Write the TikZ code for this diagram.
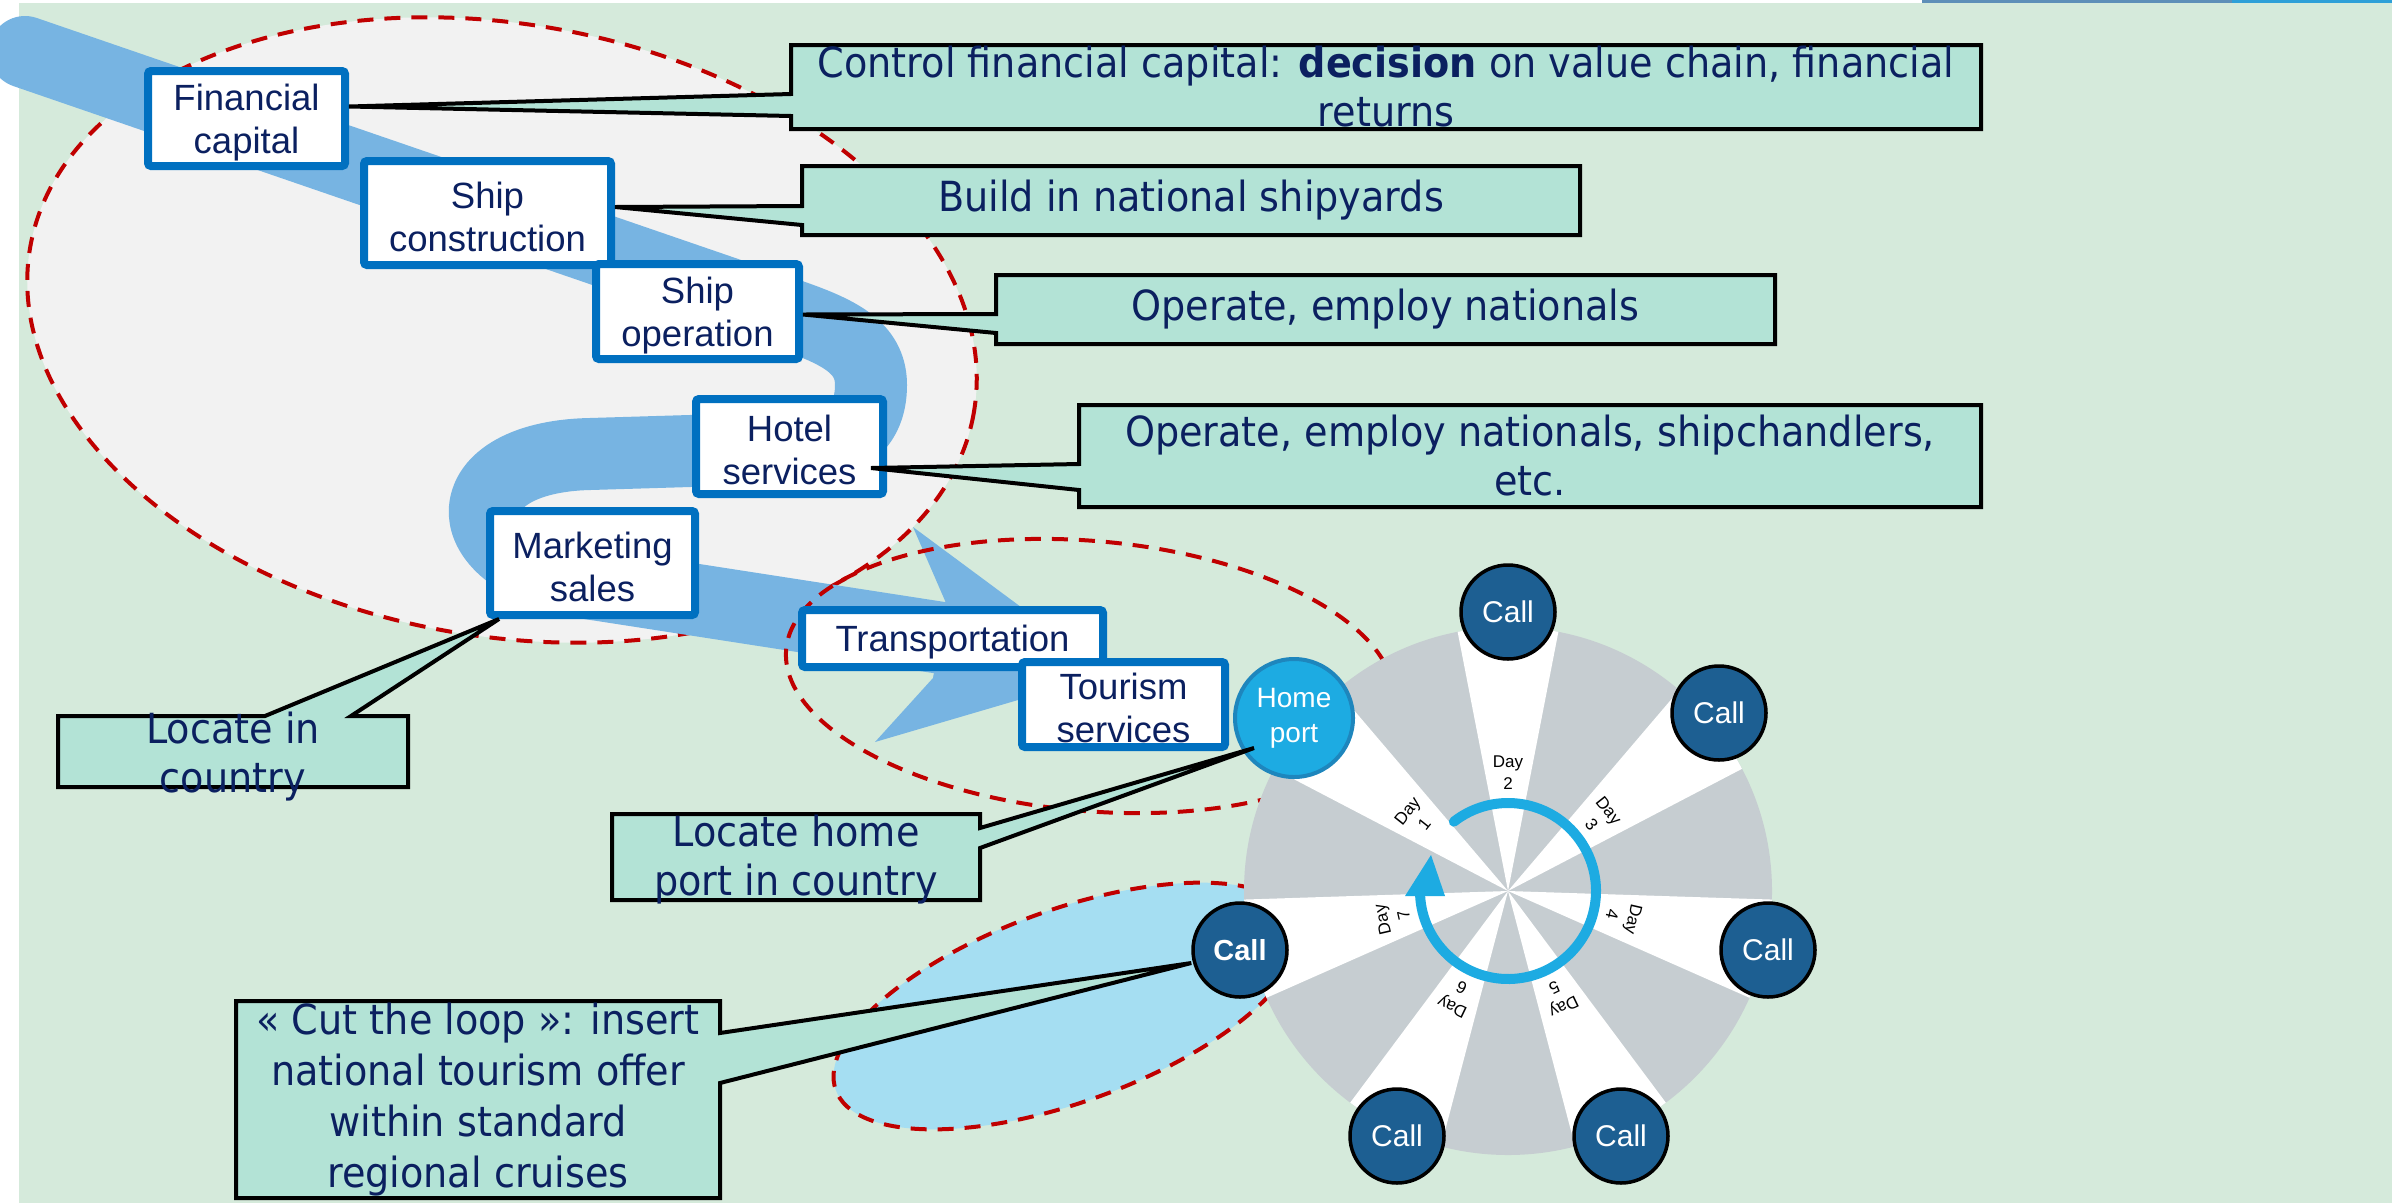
\documentclass[tikz,border=0pt]{standalone}
\usepackage{fontspec}
\setmainfont{Liberation Sans}
\newfontfamily\callfont[FakeStretch=0.92]{DejaVu Sans}
\usetikzlibrary{arrows.meta,calc}
\newcommand{\boxstrut}{\rule{0pt}{34pt}}
\definecolor{bggreen}{HTML}{D5EADB}
\definecolor{callteal}{HTML}{B3E3D6}
\definecolor{ellgray}{HTML}{F2F2F2}
\definecolor{bandblue}{HTML}{77B4E2}
\definecolor{boxblue}{HTML}{0070C0}
\definecolor{txtnavy}{HTML}{0B2060}
\definecolor{dashred}{HTML}{C00000}
\definecolor{wheelgray}{HTML}{C6CDD1}
\definecolor{calldark}{HTML}{1D5F92}
\definecolor{homeblue}{HTML}{1DABE2}
\definecolor{homeedge}{HTML}{1E86BD}
\definecolor{ringblue}{HTML}{1DABE2}
\definecolor{lightell}{HTML}{A5DEF2}
\definecolor{barA}{HTML}{5E8FB8}
\definecolor{barB}{HTML}{2EA0D8}
\begin{document}
\begin{tikzpicture}[x=1pt,y=-1pt,
  vbox/.style={draw=boxblue, line width=8pt, fill=white, rounded corners=3pt, inner sep=0pt,
    align=center, text=txtnavy, font=\fontsize{36.5}{43}\selectfont},
  cph/.style={inner sep=0pt, outer sep=0pt},
  cshape/.style={fill=callteal, draw=black, line width=4pt},
  ctext/.style={inner sep=0pt, align=center, text=txtnavy, font=\callfont\fontsize{41.5}{49}\selectfont},
  reddash/.style={draw=dashred, line width=4pt, dash pattern=on 16pt off 11pt},
  band/.style={draw=bandblue, line width=72pt, line cap=round, line join=round},
  daylbl/.style={inner sep=0pt, align=center, font=\fontsize{17}{22}\selectfont},
  call/.style={circle, draw=black, line width=3.5pt, fill=calldark, minimum size=94pt, inner sep=0pt,
    text=white, font=\fontsize{30}{34}\selectfont},
  homenode/.style={circle, draw=homeedge, line width=4pt, fill=homeblue, minimum size=118pt, inner sep=0pt,
    text=white, align=center, font=\fontsize{28}{35}\selectfont},
  ring/.style={draw=ringblue, line width=10pt, line cap=round}
]
\useasboundingbox (0,0) rectangle (2392,1203);
% backgrounds
\fill[white] (0,0) rectangle (2392,1203);
\fill[barA] (1922,0) rectangle (2232,3);
\fill[barB] (2232,0) rectangle (2392,3);
\fill[bggreen] (19,3) rectangle (2392,1203);

% big grey dashed ellipse
\draw[reddash, fill=ellgray, shift={(502,330)}, rotate=-10] (0,0) ellipse [x radius=479, y radius=306];

% value-chain band
\draw[band] (25,52) -- (780,311.4) .. controls (835,330) and (871,345) .. (871,385)
  .. controls (871,430) and (840,448) .. (790,448) -- (590,454)
  .. controls (448,457) and (448,565) .. (600,585) -- (942,638);
\fill[bandblue] (946,603) -- (913,527) -- (1110,673) -- (875,742) -- (933,678) -- cycle;

% transport ellipse
\draw[reddash, shift={(1090,676)}, rotate=-5] (0,0) ellipse [x radius=305, y radius=135];
% light blue ellipse
\draw[reddash, fill=lightell, shift={(1067,1006)}, rotate=20] (0,0) ellipse [x radius=246, y radius=96];

% wheel
\coordinate (W) at (1508,891);
\fill[wheelgray] (W) circle (264);
\foreach \d in {1,...,7} {
  \pgfmathsetmacro{\ang}{141.4286-(\d-1)*51.4286}
  \pgfmathsetmacro{\aA}{-\ang-11}
  \pgfmathsetmacro{\aB}{-\ang+11}
  \fill[white] (W) -- ($(W)+(\aA:264)$) arc[start angle=\aA, end angle=\aB, radius=264] -- cycle;
}
\foreach \d in {1,...,7} {
  \pgfmathsetmacro{\ang}{141.4286-(\d-1)*51.4286}
  \pgfmathsetmacro{\na}{-\ang}
  \pgfmathsetmacro{\rot}{\ang-90}
  \node[daylbl, rotate=\rot] (day\d) at ($(W)+(\na:118)$) {Day\\\d};
}
\draw[ring] ($(W)+(-128:88)$) arc[start angle=-128, end angle=177, radius=88];
\fill[ringblue] ($(W)+(-77,-36)$) -- ($(W)+(-103,5)$) -- ($(W)+(-63,5)$) -- cycle;

% ports of call
\node[homenode] (home) at (1294,718) {Home\\port};
\node[call] (c2) at (1508,612) {Call};
\node[call] (c3) at (1719,713) {Call};
\node[call] (c4) at (1768,950) {Call};
\node[call] (c5) at (1621,1136) {Call};
\node[call] (c6) at (1397,1136) {Call};
\node[call, font=\bfseries\fontsize{29}{34}\selectfont] (c7) at (1240,950) {Call};

% value chain boxes
\node[vbox, minimum width=197pt, minimum height=95pt] (fin) at (246.5,118.5) {\boxstrut Financial\\capital};
\node[vbox, minimum width=247pt, minimum height=104pt] (con) at (487.5,213) {\boxstrut Ship\\construction};
\node[vbox, minimum width=203pt, minimum height=95pt] (ope) at (697.5,311.5) {\boxstrut Ship\\operation};
\node[vbox, minimum width=187pt, minimum height=95pt] (hot) at (789.5,446.5) {\boxstrut Hotel\\services};
\node[vbox, minimum width=205pt, minimum height=104pt] (mkt) at (592.5,563) {\boxstrut Marketing\\sales};
\node[vbox, minimum width=301pt, minimum height=57pt] (tra) at (952.5,638.5) {\boxstrut Transportation};
\node[vbox, minimum width=203pt, minimum height=85pt] (tou) at (1123.5,704.5) {\boxstrut Tourism\\services};

% callouts
\node[cph, minimum width=1190pt, minimum height=84pt] (cFin) at (1386,87) {};
\path[cshape] (cFin.north west) -- (cFin.north east) -- (cFin.south east) -- (cFin.south west)
  -- ($(cFin.north west)+(0,71)$) -- ([yshift=12pt]fin.east) -- ($(cFin.north west)+(0,49)$) -- cycle;
\node[ctext] (cFinT) at (cFin.center) {Control financial capital: \textbf{decision} on value chain, financial\\returns};

\node[cph, minimum width=778pt, minimum height=69pt] (cCon) at (1191,200.5) {};
\path[cshape] (cCon.north west) -- (cCon.north east) -- (cCon.south east) -- (cCon.south west)
  -- ($(cCon.north west)+(0,59)$) -- ([yshift=6pt]con.east) -- ($(cCon.north west)+(0,40)$) -- cycle;
\node[ctext] (cConT) at (cCon.center) {Build in national shipyards};

\node[cph, minimum width=779pt, minimum height=69pt] (cOpe) at (1385.5,309.5) {};
\path[cshape] (cOpe.north west) -- (cOpe.north east) -- (cOpe.south east) -- (cOpe.south west)
  -- ($(cOpe.north west)+(0,58)$) -- ([yshift=-3pt]ope.east) -- ($(cOpe.north west)+(0,39)$) -- cycle;
\node[ctext] (cOpeT) at (cOpe.center) {Operate, employ nationals};

\node[cph, minimum width=902pt, minimum height=102pt] (cHot) at (1530,456) {};
\path[cshape] (cHot.north west) -- (cHot.north east) -- (cHot.south east) -- (cHot.south west)
  -- ($(cHot.north west)+(0,85)$) -- ([xshift=-16pt,yshift=-21.5pt]hot.east) -- ($(cHot.north west)+(0,59)$) -- cycle;
\node[ctext] (cHotT) at (cHot.center) {Operate, employ nationals, shipchandlers,\\etc.};

\node[cph, minimum width=350pt, minimum height=71pt] (cLoc) at (233,751.5) {};
\path[cshape] (cLoc.north west) -- ($(cLoc.north west)+(207,0)$) -- ([xshift=13pt]mkt.south west)
  -- ($(cLoc.north west)+(293,0)$) -- (cLoc.north east) -- (cLoc.south east) -- (cLoc.south west) -- cycle;
\node[ctext] (cLocT) at ([yshift=-5pt]cLoc.center) {Locate in\\country};

\node[cph, minimum width=368pt, minimum height=86pt] (cHome) at (796,857) {};
\path[cshape] (cHome.north west) -- (cHome.north east) -- ($(cHome.north east)+(0,14)$)
  -- ([xshift=-40pt,yshift=-30pt]home.center) -- ($(cHome.north east)+(0,34)$)
  -- (cHome.south east) -- (cHome.south west) -- cycle;
\node[ctext] (cHomeT) at ([yshift=-3pt]cHome.center) {Locate home\\port in country};

\node[cph, minimum width=484pt, minimum height=197pt] (cCut) at (478,1099.5) {};
\path[cshape] (cCut.north west) -- (cCut.north east) -- ($(cCut.north east)+(0,32)$)
  -- ([yshift=-13pt]c7.west) -- ($(cCut.north east)+(0,82)$)
  -- (cCut.south east) -- (cCut.south west) -- cycle;
\node[ctext, font=\callfont\fontsize{41.5}{51}\selectfont] (cCutT) at (cCut.center) {« Cut the loop »: insert\\national tourism offer\\within standard\\regional cruises};
\end{tikzpicture}
\end{document}
